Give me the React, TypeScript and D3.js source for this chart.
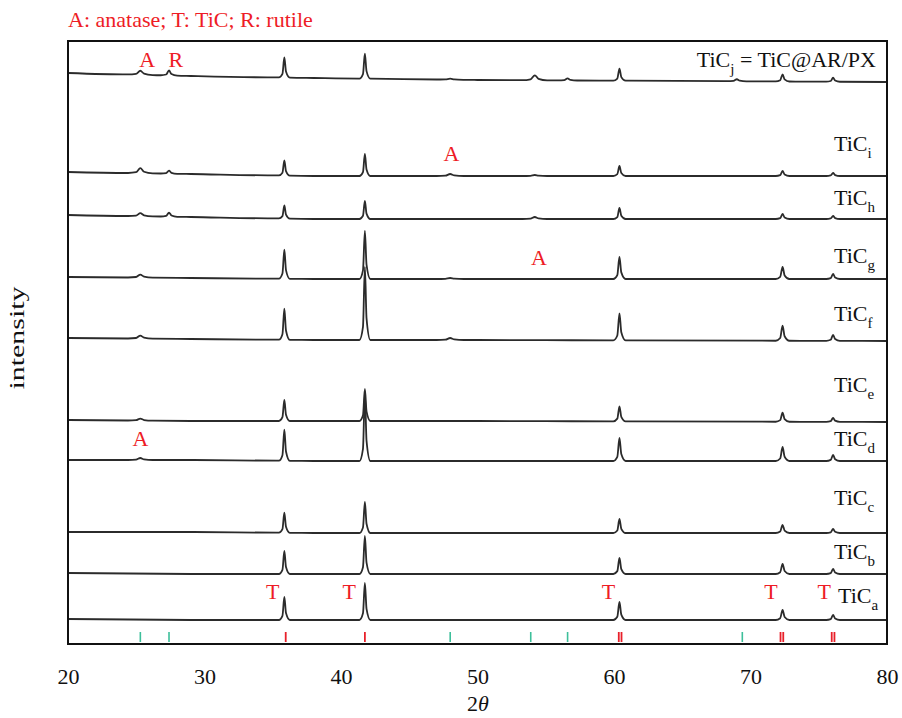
import * as d3 from 'd3';
import { useEffect, useRef } from 'react';

// 2theta positions of the reflections (anatase, rutile, TiC)
const peakPos = [25.3, 27.4, 35.85, 41.75, 48.0, 54.2, 56.6, 60.4, 69.0, 72.35, 76.05];
const peakWidth = [0.9, 0.6, 0.4, 0.4, 1.0, 0.9, 0.7, 0.45, 0.7, 0.5, 0.5];

const sampleNames = ['a', 'b', 'c', 'd', 'e', 'f', 'g', 'h', 'i', 'j'];
const sampleOffsets = [0, 46, 87, 159, 199, 280, 341, 401, 444, 540];

// peak heights per sample, same order as peakPos
const heightsA = [0, 0, 23, 37, 0, 0, 0, 18, 0, 10, 5];
const heightsB = [0, 0, 23, 38, 0, 0, 0, 16, 0, 10, 5];
const heightsC = [0, 0, 20, 31, 0, 0, 0, 14, 0, 8, 4];
const heightsD = [2, 0, 31, 68, 0, 0, 0, 23, 0, 14, 6];
const heightsE = [2, 0, 21, 32, 0, 0, 0, 15, 0, 9, 4];
const heightsF = [3, 0, 31, 73, 2, 0, 0, 27, 0, 15, 6];
const heightsG = [3, 0, 29, 48, 1, 0, 0, 22, 0, 12, 5];
const heightsH = [3, 4, 13, 18, 0, 2, 0, 11, 0, 5, 3];
const heightsI = [5, 3, 15, 22, 2, 1, 0, 10, 0, 5, 3];
const heightsJ = [4, 5, 20, 25, 1, 5, 2, 12, 2, 7, 4];
const allHeights = [heightsA, heightsB, heightsC, heightsD, heightsE, heightsF, heightsG, heightsH, heightsI, heightsJ];

// background drift per sample
const driftX = [20, 29, 38, 50, 80];
const drifts = [
  [1, 0, 0, 0, 0],
  [1, 0, 0, 0, 0],
  [1, 1, 0, 0, 0],
  [1, 1, 0, 0, 0],
  [1, 0, 0, 0, -1],
  [2, 1, 0, 0, -1],
  [2, 1, 0, 0, 0],
  [4, 2, 0, 0, 0],
  [4, 2, 0, 0, 0],
  [7, 4, 2, 0, -2],
];

// reference line positions
const anataseRutileTicks = [25.3, 27.4, 48.0, 53.9, 56.6, 69.4];
const ticTicks = [35.95, 41.75, 60.35, 60.55, 72.2, 72.4, 75.95, 76.15];

const xTicks = [20, 30, 40, 50, 60, 70, 80];

// red phase annotations: [label, 2theta, y(px baseline)]
const annotations: [string, number, number][] = [
  ['A', 25.8, 67], ['R', 27.9, 67],
  ['A', 48.1, 161], ['A', 54.5, 265], ['A', 25.3, 446],
  ['T', 35.0, 599], ['T', 40.6, 599], ['T', 59.6, 599], ['T', 71.5, 599], ['T', 75.4, 599],
];

const labelY = [603, 559, 505, 446, 392, 321, 263, 205, 151, 67];

const App = () => {
  const ref = useRef<SVGSVGElement>(null);

  useEffect(() => {
    document.body.style.margin = '0';
    const svg = d3.select(ref.current);
    svg.selectAll('*').remove();

    const width = 902;
    const height = 718;
    const margin = { top: 41, right: 15, bottom: 74, left: 68 };
    const font = '"Liberation Serif", "Times New Roman", serif';

    const x = d3.scaleLinear().domain([20, 80]).range([margin.left, width - margin.right]);
    const y = d3.scaleLinear().domain([-24, 579]).range([height - margin.bottom, margin.top]);

    svg.attr('width', width).attr('height', height).style('font-family', font);

    // Top legend
    svg.append('text')
      .attr('x', 68).attr('y', 27)
      .attr('fill', '#ee1c25')
      .style('font-size', '22px')
      .text('A: anatase; T: TiC; R: rutile');

    const driftAt = (i: number, t: number) => d3.scaleLinear().domain(driftX).range(drifts[i])(t);

    const line = d3.line<[number, number]>()
      .x(d => x(d[0]))
      .y(d => y(d[1]))
      .curve(d3.curveMonotoneX);

    allHeights.forEach((hs, i) => {
      const pts: [number, number][] = driftX.map(t => [t, 0]);
      hs.forEach((h, k) => {
        if (h <= 0) return;
        const p = peakPos[k];
        const w = peakWidth[k];
        pts.push([p - w, 0], [p - 0.35 * w, 0.18 * h], [p, h], [p + 0.3 * w, 0.3 * h], [p + w, 0]);
      });
      pts.sort((a, b) => a[0] - b[0]);
      const data = pts.map(([t, v]) => [t, sampleOffsets[i] + driftAt(i, t) + v] as [number, number]);
      svg.append('path')
        .datum(data)
        .attr('fill', 'none')
        .attr('stroke', '#2b2b2b')
        .attr('stroke-width', 1.8)
        .attr('stroke-linejoin', 'round')
        .attr('d', line);
    });

    // reference ticks strip
    svg.append('g').selectAll('line')
      .data(anataseRutileTicks).enter().append('line')
      .attr('x1', d => x(d)).attr('x2', d => x(d))
      .attr('y1', y(-12)).attr('y2', y(-22))
      .attr('stroke', '#3dbf9a').attr('stroke-width', 1.6);
    svg.append('g').selectAll('line')
      .data(ticTicks).enter().append('line')
      .attr('x1', d => x(d)).attr('x2', d => x(d))
      .attr('y1', y(-12)).attr('y2', y(-22))
      .attr('stroke', '#e8202a').attr('stroke-width', 1.8);

    // frame
    svg.append('rect')
      .attr('x', margin.left).attr('y', margin.top)
      .attr('width', width - margin.right - margin.left)
      .attr('height', height - margin.bottom - margin.top)
      .attr('fill', 'none').attr('stroke', '#111').attr('stroke-width', 2);

    // X axis
    const xAxis = svg.append('g')
      .attr('transform', `translate(0, ${height - margin.bottom})`)
      .call(d3.axisBottom(x).tickValues(xTicks).tickSize(0).tickPadding(24).tickFormat(d3.format('d')));
    xAxis.select('.domain').remove();
    xAxis.selectAll('text').style('font-size', '22px').style('font-family', font).attr('fill', '#111');

    const xTitle = svg.append('text')
      .attr('x', 478).attr('y', 711)
      .attr('text-anchor', 'middle')
      .attr('fill', '#111')
      .style('font-size', '22px');
    xTitle.append('tspan').text('2');
    xTitle.append('tspan').style('font-style', 'italic').text('θ');

    // Y title (glyphs look stretched along the text direction in the original)
    svg.append('text')
      .attr('transform', 'translate(24, 338) rotate(-90) scale(1.36, 1)')
      .attr('text-anchor', 'middle')
      .attr('fill', '#111')
      .style('font-size', '22px')
      .text('intensity');

    // sample labels
    sampleNames.forEach((s, i) => {
      const t = svg.append('text')
        .attr('y', labelY[i])
        .attr('fill', '#111')
        .style('font-size', '22px');
      if (s === 'j') {
        t.attr('x', 876).attr('text-anchor', 'end');
        t.append('tspan').text('TiC');
        t.append('tspan').attr('dy', 7).style('font-size', '15px').text('j');
        t.append('tspan').attr('dy', -7).text(' = TiC@AR/PX');
      } else {
        t.attr('x', s === 'a' ? 838 : 834);
        t.append('tspan').text('TiC');
        t.append('tspan').attr('dy', 7).style('font-size', '15px').text(s);
      }
    });

    // phase annotations
    svg.append('g').selectAll('text')
      .data(annotations).enter().append('text')
      .attr('x', d => x(d[1])).attr('y', d => d[2])
      .attr('text-anchor', 'middle')
      .attr('fill', '#ee1c25')
      .style('font-size', '22px')
      .text(d => d[0]);
  }, []);

  return <svg ref={ref} style={{ display: 'block' }}></svg>;
};

export default App;
